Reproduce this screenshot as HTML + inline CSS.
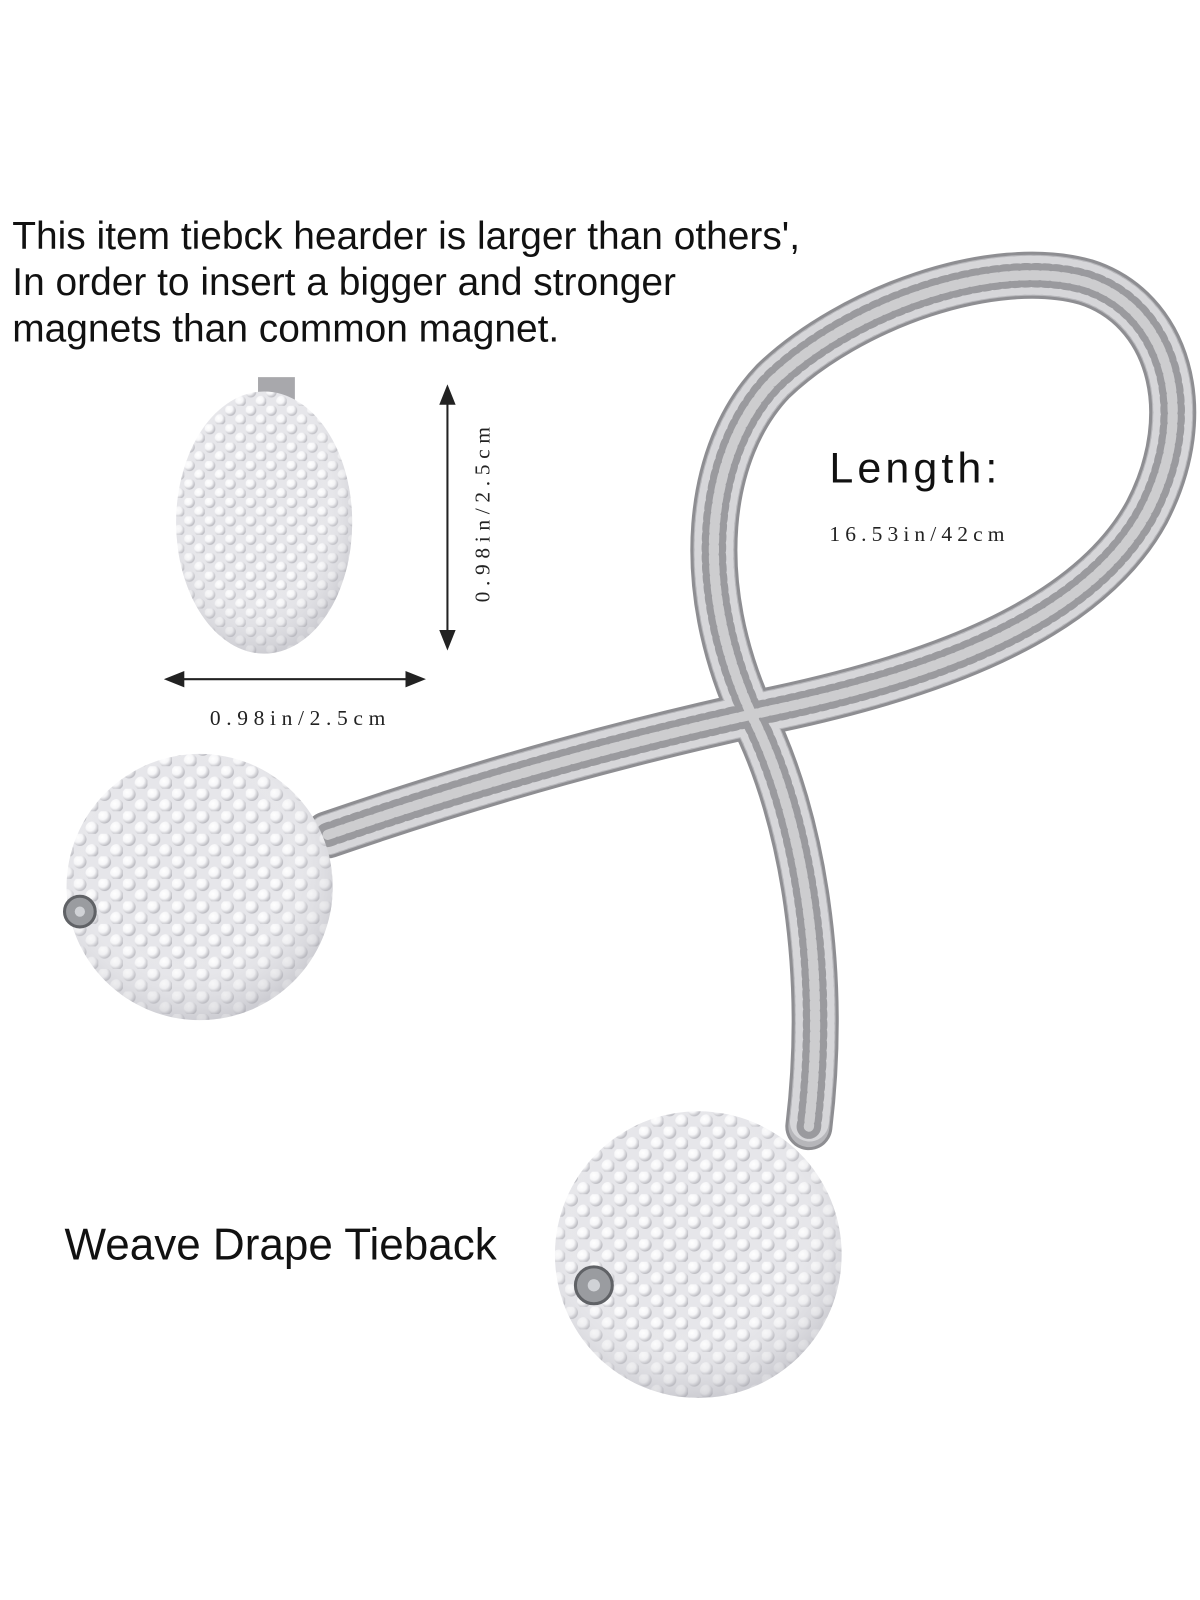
<!DOCTYPE html>
<html><head><meta charset="utf-8"><style>
html,body{margin:0;padding:0;background:#fff;}
svg{display:block}
</style></head><body>
<svg width="1200" height="1600" viewBox="0 0 1172 1562" xmlns="http://www.w3.org/2000/svg">
<defs>
<path id="rope" d="M320,815 C480,760 620,722 760,692 C900,662 1060,610 1120,500 C1172,400 1140,300 1060,275 C970,250 830,300 755,372 C690,440 675,570 735,700 C785,800 808,950 790,1100" fill="none" stroke-linecap="round"/>
<radialGradient id="pearl" cx="35%" cy="35%" r="65%">
<stop offset="0" stop-color="#ffffff"/><stop offset="0.55" stop-color="#f6f6f8"/><stop offset="1" stop-color="#bcbcc2"/>
</radialGradient>
<pattern id="pearls" width="24" height="22" patternUnits="userSpaceOnUse">
<rect width="24" height="22" fill="#e6e6ea"/>
<circle cx="6" cy="5.5" r="6.5" fill="url(#pearl)"/>
<circle cx="18" cy="16.5" r="6.5" fill="url(#pearl)"/>
</pattern>
<pattern id="pearls2" width="20" height="18" patternUnits="userSpaceOnUse">
<rect width="20" height="18" fill="#e6e6ea"/>
<circle cx="5" cy="4.5" r="5.3" fill="url(#pearl)"/>
<circle cx="15" cy="13.5" r="5.3" fill="url(#pearl)"/>
</pattern>
<radialGradient id="shade" cx="45%" cy="40%" r="60%">
<stop offset="0.6" stop-color="#fff" stop-opacity="0"/><stop offset="1" stop-color="#a8a8b0" stop-opacity="0.4"/>
</radialGradient>
<marker id="ah" markerWidth="10" markerHeight="10" refX="5" refY="5" orient="auto-start-reverse">
<path d="M0,1 L10,5 L0,9 z" fill="#222"/>
</marker>
</defs>

<use href="#rope" stroke="#8e8e92" stroke-width="46"/>
<use href="#rope" stroke="#b6b6ba" stroke-width="40"/>
<use href="#rope" stroke="#d6d6d9" stroke-width="38" stroke-dasharray="4 5"/>
<use href="#rope" stroke="#9a9a9e" stroke-width="24" stroke-dasharray="3 7"/>
<use href="#rope" stroke="#e2e2e4" stroke-width="10" stroke-dasharray="6 4" stroke-opacity="0.7"/>
<rect x="252" y="368" width="36" height="22" fill="#a8a8ac"/>

<ellipse cx="258" cy="510" rx="86" ry="128" fill="url(#pearls2)"/>
<ellipse cx="258" cy="510" rx="86" ry="128" fill="url(#shade)"/>

<circle cx="195" cy="866" r="130" fill="url(#pearls)"/>
<circle cx="195" cy="866" r="130" fill="url(#shade)"/>
<circle cx="78" cy="890" r="15" fill="#9a9ca0" stroke="#606266" stroke-width="3"/>
<circle cx="78" cy="890" r="5" fill="#d0d2d6"/>

<circle cx="682" cy="1225" r="140" fill="url(#pearls)"/>
<circle cx="682" cy="1225" r="140" fill="url(#shade)"/>
<circle cx="580" cy="1255" r="18" fill="#9a9ca0" stroke="#606266" stroke-width="3"/>
<circle cx="580" cy="1255" r="6" fill="#d0d2d6"/>

<line x1="437" y1="385" x2="437" y2="625" stroke="#222" stroke-width="2" marker-start="url(#ah)" marker-end="url(#ah)"/>
<line x1="170" y1="663" x2="406" y2="663" stroke="#222" stroke-width="2" marker-start="url(#ah)" marker-end="url(#ah)"/>

<g font-family="Liberation Sans, sans-serif" fill="#111">
<text x="12" y="243" font-size="38">This item tiebck hearder is larger than others',</text>
<text x="12" y="288" font-size="38">In order to insert a bigger and stronger</text>
<text x="12" y="333" font-size="38">magnets than common magnet.</text>
<text x="810" y="471" font-size="42" letter-spacing="4">Length:</text>
<text x="63" y="1230" font-size="43">Weave Drape Tieback</text>
</g>
<g font-family="Liberation Serif, serif" fill="#222" font-size="21">
<text x="810" y="528" letter-spacing="5">16.53in/42cm</text>
<text x="205" y="708" letter-spacing="5.5">0.98in/2.5cm</text>
<text transform="translate(478,588) rotate(-90)" letter-spacing="5.5">0.98in/2.5cm</text>
</g>
</svg>
</body></html>
